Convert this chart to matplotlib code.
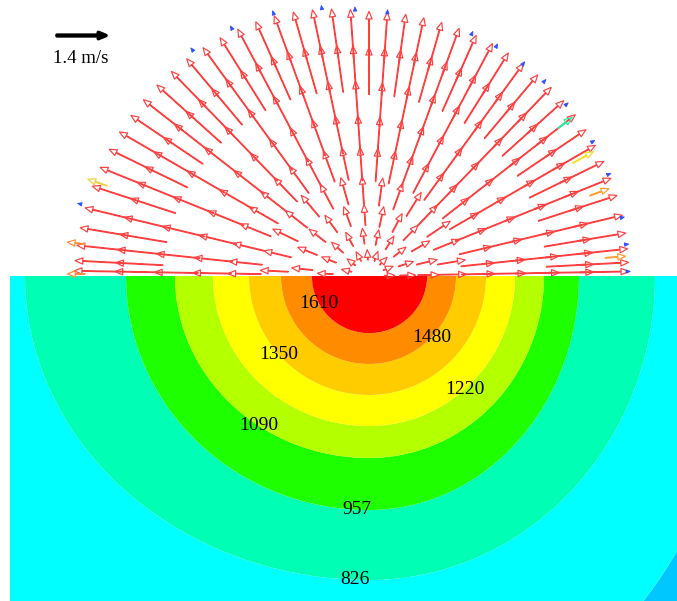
import numpy as np
import matplotlib.pyplot as plt
from matplotlib.colors import ListedColormap

plt.rcParams['font.family'] = ['Liberation Serif', 'DejaVu Serif']

# temperature field below the surface: each contour is a half ellipse
# (left half-width, right half-width, depth), from the outside in
level_temp = [695, 826, 957, 1090, 1220, 1350, 1480, 1610]
semi_left = [500, 344, 243, 194, 156, 120, 88, 57]
semi_right = [380, 286, 210, 175, 146, 117, 87, 58]
semi_depth = [470, 304, 234, 182, 150, 119, 88, 57]
band_colors = ['#00C8FF', '#00FFFF', '#00FFB4', '#1EFF00', '#B4FF00',
               '#FFFF00', '#FFCC00', '#FF8C00', '#FF0000']
label_levels = [1610, 1480, 1350, 1220, 1090, 957, 826]
label_spots = [(-47, -26), (58, -57), (-90, -79), (97, -115),
               (-112, -152), (-12, -234), (-14, -302)]

# velocity mesh above the surface
ray_deg = [1, 3, 6, 9.5, 13.5] + list(range(18, 163, 4)) + [166.5, 170.5, 174, 177, 179]
ring_frac = [0.06, 0.12, 0.19, 0.27, 0.36, 0.46, 0.57, 0.69, 0.82]
ring_speed = [0.3, 0.45, 0.6, 0.8, 0.95, 1.1, 1.25, 1.35, 1.4]
ring_step = [6, 5, 4, 3, 2, 2, 2, 1, 1]
rim_deg = [0, 90, 110, 130, 180]
rim_r = [257, 263, 278, 286, 300]

# odd coloured arrows and blue stagnant points at the rim
edge_deg = [38, 29, 20, 4.4, 161, 173.6, 179.6]
edge_r = [240, 233, 235, 237, 277, 286, 284]
edge_speed = [0.5, 0.67, 0.58, 0.58, 0.58, 0.5, 0.5]
edge_color = ['#20F0A0', '#F0E020', '#FFA030', '#FFA030', '#F0D040', '#FF9040', '#FF9040']
blue_deg = [1, 7, 13, 23, 31, 41, 48, 54, 61, 67, 86, 93, 100, 110, 119, 128, 166]

fig = plt.figure(figsize=(6.77, 6.01), dpi=100)
ax = fig.add_axes([0, 0, 1, 1])
ax.set_xlim(-369, 308)
ax.set_ylim(-325, 276)
ax.axis('off')

# contour part
x = np.linspace(-359, 308, 800)
y = np.linspace(-326, 0, 400)
X, Y = np.meshgrid(x, y)
F = np.zeros_like(X)
for al, ar, b in zip(semi_left, semi_right, semi_depth):
    a = np.where(X < 0, al, ar)
    s = np.hypot(X / a, Y / b)
    F += np.clip(0.5 + (1 - s) * b, 0, 1)
T = np.interp(F, [0] + [j + 0.5 for j in range(len(level_temp))] + [len(level_temp)],
              [560] + level_temp + [1740])
cmap = ListedColormap(band_colors)
ax.contourf(X, Y, T, levels=[560] + level_temp + [1740], cmap=cmap, antialiased=True)
cs = ax.contour(X, Y, T, levels=sorted(label_levels), colors='none', linewidths=0)
txts = ax.clabel(cs, manual=label_spots, inline=False, fmt='%d', fontsize=14, colors='k')
for t in txts:
    t.set_rotation(0)

# vector part
px, py, pu, pv = [], [], [], []
for frac, spd, step in zip(ring_frac, ring_speed, ring_step):
    deg = np.array(ray_deg[::step], dtype=float)
    th = np.radians(deg)
    rr = frac * np.interp(deg, rim_deg, rim_r)
    px += list(rr * np.cos(th))
    py += list(rr * np.sin(th))
    pu += list(spd * np.cos(th))
    pv += list(spd * np.sin(th))

qkw = dict(angles='xy', units='xy', scale_units='xy', scale=1.4 / 49,
           width=0.7, headwidth=9, headlength=11, headaxislength=11)
q = ax.quiver(px, py, pu, pv, facecolors='none', edgecolors='#FF4040',
              linewidths=0.85, **qkw)

th = np.radians(edge_deg)
ax.quiver(np.array(edge_r) * np.cos(th), np.array(edge_r) * np.sin(th),
          np.array(edge_speed) * np.cos(th), np.array(edge_speed) * np.sin(th),
          facecolors='none', edgecolors=edge_color, linewidths=0.9, **qkw)

th = np.radians(blue_deg)
rb = np.interp(blue_deg, rim_deg, rim_r)
ax.quiver(rb * np.cos(th), rb * np.sin(th), 0.12 * np.cos(th), 0.12 * np.sin(th),
          facecolors='#3050FF', edgecolors='#3050FF', linewidths=0.6, **qkw)

ax.quiverkey(q, 81 / 677, 1 - 35 / 601, 1.4, '1.4 m/s', coordinates='figure',
             labelpos='S', labelsep=0.15, color='k', linewidths=2.6,
             fontproperties={'family': 'Liberation Serif', 'size': 13.5})

fig.savefig('out.png', dpi=100)
